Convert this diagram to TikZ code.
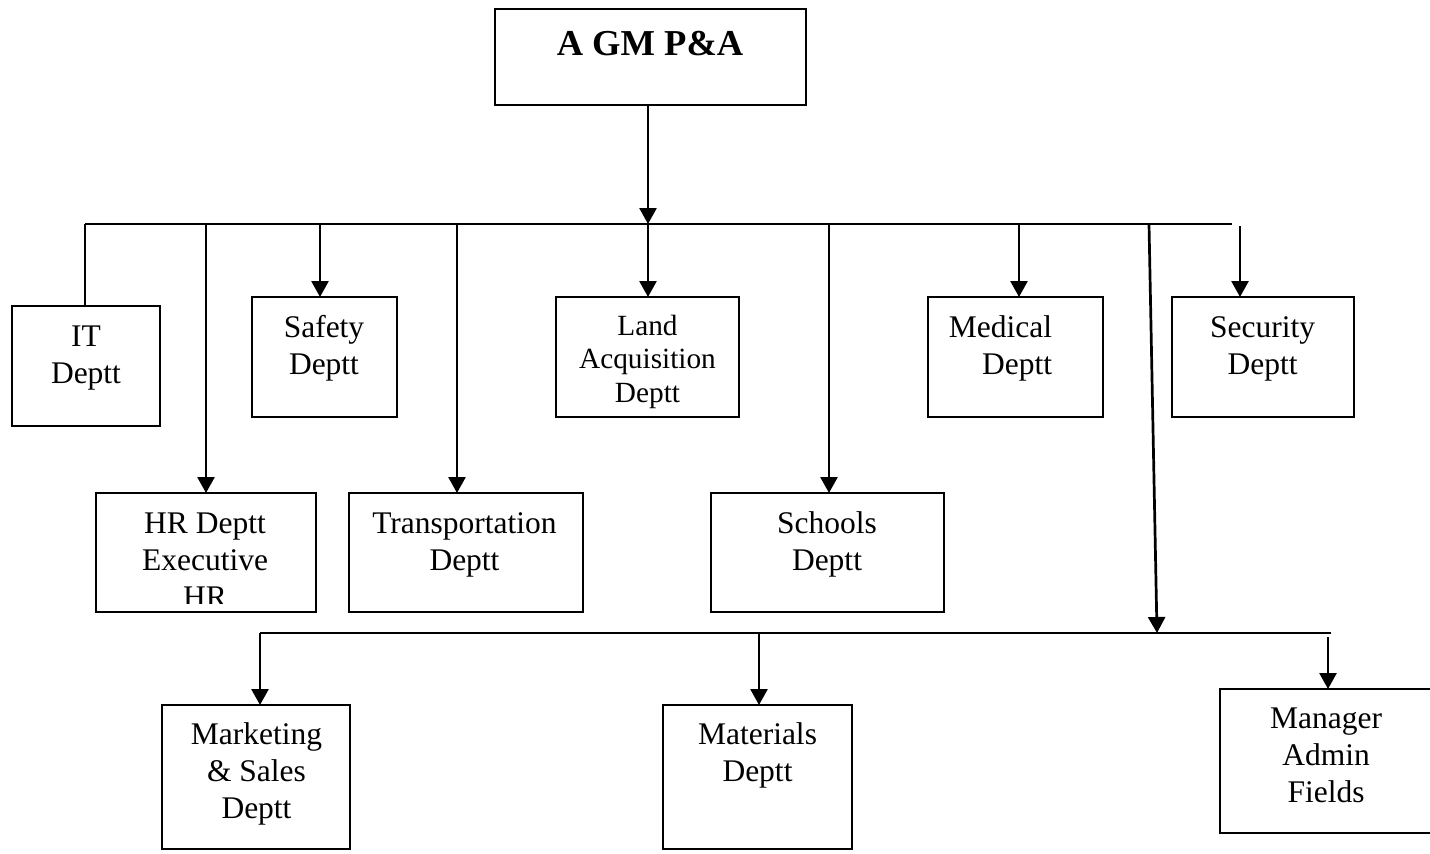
\documentclass[tikz,border=0pt]{standalone}
\usepackage{fontspec}
\setmainfont{Liberation Serif}
\usetikzlibrary{arrows.meta}
\newcommand\mlines[2][c]{\begin{tabular}[t]{@{}#1@{}}#2\end{tabular}}
\begin{document}
\begin{tikzpicture}[x=1pt,y=-1pt,
  box/.style={draw, line width=2.3pt, rectangle, inner sep=0pt, outer sep=0pt},
  conn/.style={line width=2.7pt},
  arr/.style={conn, -{Triangle[width=17pt,length=16pt]}},
  lbl/.style={inner sep=0pt, outer sep=0pt, anchor=base, font=\fontsize{31.5}{37}\selectfont},
  lbls/.style={inner sep=0pt, outer sep=0pt, anchor=base, font=\fontsize{29.3}{33.5}\selectfont}]
\useasboundingbox (0,0) rectangle (1430,854);
% boxes
\node[box, minimum width=311pt, minimum height=96pt] (top) at (650.5,57) {};
\node[box, minimum width=148pt, minimum height=120pt] (it) at (86,366) {};
\node[box, minimum width=220pt, minimum height=119pt] (hr) at (206,552.5) {};
\node[box, minimum width=145pt, minimum height=120pt] (safety) at (324.5,357) {};
\node[box, minimum width=234pt, minimum height=119pt] (trans) at (466,552.5) {};
\node[box, minimum width=183pt, minimum height=120pt] (land) at (647.5,357) {};
\node[box, minimum width=233pt, minimum height=119pt] (schools) at (827.5,552.5) {};
\node[box, minimum width=175pt, minimum height=120pt] (medical) at (1015.5,357) {};
\node[box, minimum width=182pt, minimum height=120pt] (security) at (1263,357) {};
\node[box, minimum width=188pt, minimum height=144pt] (marketing) at (256,777) {};
\node[box, minimum width=189pt, minimum height=144pt] (materials) at (757.5,777) {};
\node[box, minimum width=216pt, minimum height=144pt] (manager) at (1328,761) {};
% texts
\node[inner sep=0pt, anchor=base, font=\fontsize{36.5}{40}\selectfont\bfseries] (topT) at (650,55) {A GM P\&A};
\node[lbl] (itT) at (86,346) {\mlines{IT\\Deptt}};
\begin{scope}
\clip (96,493) rectangle (316,603);
\node[lbl] (hrT) at (205,533) {\mlines{HR Deptt\\Executive\\HR}};
\end{scope}
\node[lbl] (safetyT) at (324,337) {\mlines{Safety\\Deptt}};
\node[lbl] (transT) at (464.5,533) {\mlines{Transportation\\Deptt}};
\node[lbls] (landT) at (647.5,335) {\mlines{Land\\Acquisition\\Deptt}};
\node[lbl] (schoolsT) at (827,533) {\mlines{Schools\\Deptt}};
\node[lbl, anchor=base east] (medicalT) at (1052,337) {\mlines[r]{Medical\\Deptt}};
\node[lbl] (securityT) at (1262.5,337) {\mlines{Security\\Deptt}};
\node[lbl] (marketingT) at (256.5,744) {\mlines{Marketing\\\& Sales\\Deptt}};
\node[lbl] (materialsT) at (757.5,744) {\mlines{Materials\\Deptt}};
\node[lbl] (managerT) at (1326,728) {\mlines{Manager\\Admin\\Fields}};
% bus coordinates
\coordinate (busL) at (85,224);
\coordinate (busR) at (1232,224);
\coordinate (busTop) at (648,224);
\coordinate (bHR) at (206,224);
\coordinate (bSafety) at (320,224);
\coordinate (bTrans) at (457,224);
\coordinate (bSchools) at (829,224);
\coordinate (bMedical) at (1019,224);
\coordinate (bSlant) at (1149,224);
\coordinate (bSecurity) at (1240,226);
\coordinate (low) at (1157,633);
\coordinate (lowL) at (260,633);
\coordinate (lowR) at (1331,633);
\coordinate (bMaterials) at (759,633);
\coordinate (bManager) at (1328,637);
% connectors
\draw[conn] (busL) -- (busR);
\draw[arr] (top.south -| busTop) -- (busTop);
\draw[conn] (busL) -- (busL |- it.north);
\draw[arr] (bHR) -- (bHR |- hr.north);
\draw[arr] (bSafety) -- (bSafety |- safety.north);
\draw[arr] (bTrans) -- (bTrans |- trans.north);
\draw[arr] (busTop) -- (busTop |- land.north);
\draw[arr] (bSchools) -- (bSchools |- schools.north);
\draw[arr] (bMedical) -- (bMedical |- medical.north);
\draw[arr] (bSecurity) -- (bSecurity |- security.north);
\draw[arr] (bSlant) -- (low);
\draw[conn] (lowL) -- (lowR);
\draw[arr] (lowL) -- (lowL |- marketing.north);
\draw[arr] (bMaterials) -- (bMaterials |- materials.north);
\draw[arr] (bManager) -- (bManager |- manager.north);
\end{tikzpicture}
\end{document}
